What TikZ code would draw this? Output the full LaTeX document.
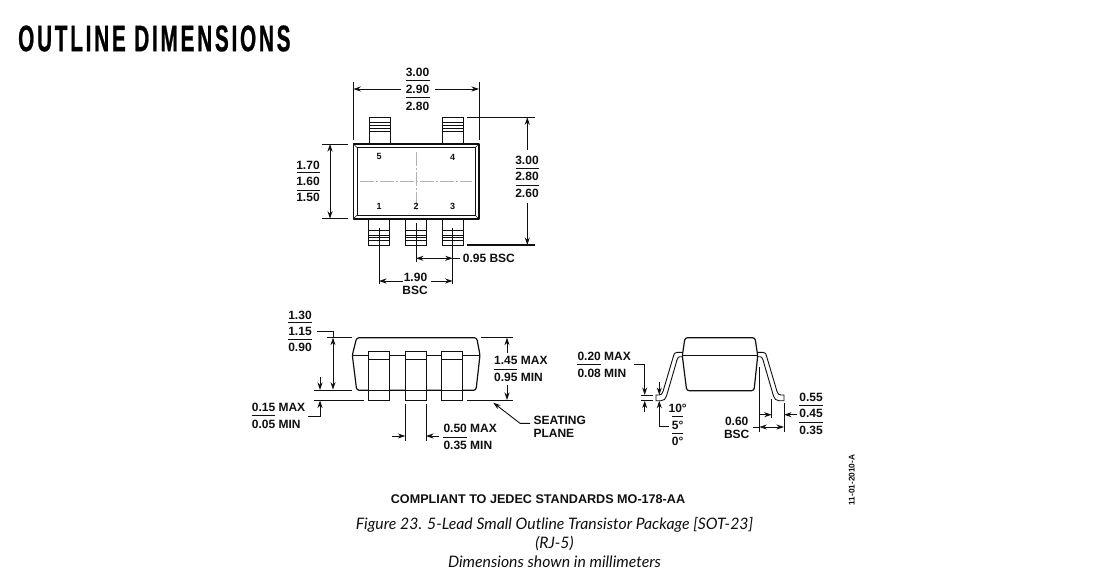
\documentclass[tikz,border=0pt]{standalone}
\usepackage{fontspec}
\setmainfont{Liberation Sans}
\newfontfamily\titlefont[FakeStretch=0.56,LetterSpace=7.5,FakeBold=0.6]{Liberation Sans}
\newfontfamily\capfont{Lato}
\usetikzlibrary{arrows.meta}
\definecolor{ink}{HTML}{111011}
\tikzset{
  outline/.style={draw=ink, line width=1.2pt, line join=round},
  thin part/.style={draw=ink, line width=0.9pt},
  dimline/.style={draw=ink, line width=0.9pt},
  dimarrow/.style={dimline, -{Stealth[length=7.5pt,width=5pt]}},
  dimboth/.style={dimline, {Stealth[length=7.5pt,width=5pt]}-{Stealth[length=7.5pt,width=5pt]}},
  centerline/.style={draw=black!30, line width=0.7pt, dash pattern=on 14pt off 2pt on 2pt off 2pt},
  dimtext/.style={font=\fontsize{12}{12}\selectfont\bfseries, text=ink, inner sep=0pt},
  pintext/.style={font=\fontsize{9}{9}\selectfont\bfseries, text=ink, inner sep=0pt},
  caption/.style={font=\capfont\itshape\fontsize{15.8}{16}\selectfont, text=ink, inner sep=0pt}
}
\begin{document}
\begin{tikzpicture}[x=1pt, y=-1pt]
  \useasboundingbox (0,0) rectangle (1117,586);
  \fill[white] (0,0) rectangle (1117,586);
  \node[anchor=west, inner sep=0pt, text=black, font=\titlefont\bfseries\fontsize{37}{37}\selectfont] (title) at (18,38.5) {OUTLINE DIMENSIONS};

  % top view: leads
  \foreach \x in {369.3, 442.3} {
    \draw[thin part] (\x,144) -- (\x,117.5) -- (\x+21.3,117.5) -- (\x+21.3,144);
    \foreach \y in {122, 125, 128, 131.5} {
      \draw[thin part, line width=0.7pt] (\x,\y) -- (\x+21.3,\y);
    }
  }
  \foreach \x in {368.3, 405.3, 442} {
    \draw[thin part] (\x,219) -- (\x,245) -- (\x+21.3,245) -- (\x+21.3,219);
    \foreach \y in {230, 235, 237.5, 240.5} {
      \draw[thin part, line width=0.7pt] (\x,\y) -- (\x+21.3,\y);
    }
  }
  % top view: body
  \draw[outline, line width=1.5pt] (353.3,144) rectangle (479,219);
  \draw[thin part] (357.3,147.7) rectangle (475,215);
  \draw[thin part, line width=0.5pt] (353.3,144) -- (357.3,147.7) (479,144) -- (475,147.7)
    (353.3,219) -- (357.3,215) (479,219) -- (475,215);
  \draw[centerline] (360,181.3) -- (472,181.3);
  \draw[centerline] (416,152) -- (416,211);
  \node[pintext] (pinfive) at (379,156.7) {5};
  \node[pintext] (pinfour) at (452.7,157.3) {4};
  \node[pintext] (pinone) at (379,206.7) {1};
  \node[pintext] (pintwo) at (416,206.7) {2};
  \node[pintext] (pinthree) at (452.7,206.7) {3};

  % top view: width
  \draw[dimline] (353.3,82) -- (353.3,140);
  \draw[dimline] (479,82) -- (479,140);
  \node[dimtext] (widthhi) at (417.5,72) {3.00};
  \node[dimtext] (widthmid) at (417.5,89) {2.90};
  \node[dimtext] (widthlo) at (417.5,106) {2.80};
  \draw[dimline] (405.7,80.3) -- (430,80.3);
  \draw[dimline] (405.7,97.3) -- (430,97.3);
  \draw[dimarrow] (401,89) -- (353.3,89);
  \draw[dimarrow] (435,89) -- (479,89);

  % top view: body width
  \draw[dimline] (321.7,144) -- (348,144);
  \draw[dimline] (321.7,218.7) -- (348,218.7);
  \draw[dimboth] (330,144) -- (330,218.7);
  \node[dimtext] (bodyhi) at (308,165) {1.70};
  \node[dimtext] (bodymid) at (308,181.7) {1.60};
  \node[dimtext] (bodylo) at (308,197.7) {1.50};
  \draw[dimline] (296.7,172.7) -- (320,172.7);
  \draw[dimline] (296.7,190) -- (320,190);

  % top view: overall
  \draw[dimline] (467,117.3) -- (535,117.3);
  \draw[dimline, line width=1.1pt] (467,245) -- (535,245);
  \draw[dimarrow] (527.3,150) -- (527.3,117.3);
  \draw[dimarrow] (527.3,203) -- (527.3,245);
  \node[dimtext] (allhi) at (527,160.7) {3.00};
  \node[dimtext] (allmid) at (527,176.7) {2.80};
  \node[dimtext] (alllo) at (527,193.3) {2.60};
  \draw[dimline] (515.7,168.3) -- (539,168.3);
  \draw[dimline] (515.7,185) -- (539,185);

  % top view: pitch
  \draw[dimline] (379,228) -- (379,284);
  \draw[dimline] (416,223) -- (416,261.7);
  \draw[dimline] (452.7,228) -- (452.7,284);
  \node[dimtext, anchor=west] (pitchone) at (462.7,258.3) {0.95 BSC};
  \draw[dimarrow] (436,258.3) -- (416,258.3);
  \draw[dimarrow] (436,258.3) -- (452.7,258.3);
  \draw[dimline] (452.7,258.3) -- (460,258.3);
  \node[dimtext] (pitchtwo) at (415.5,277.7) {1.90};
  \node[dimtext] (pitchbsc) at (415,290.7) {BSC};
  \draw[dimarrow] (402.7,281) -- (379,281);
  \draw[dimarrow] (430.7,281) -- (452.7,281);

  % front view
  \draw[outline, fill=white, rounded corners=2.5pt] (356.7,337.7) -- (476.7,337.7) -- (480,355) -- (476,390.3) -- (356.7,390.3) -- (352.3,355) -- cycle;
  \draw[thin part] (352.3,355) -- (480,355);
  \foreach \x in {368.7, 405.3, 441.7} {
    \draw[thin part, fill=white] (\x,351.7) rectangle (\x+20.8,400);
    \draw[thin part] (\x,359.3) -- (\x+20.8,359.3);
    \draw[thin part] (\x,390.3) -- (\x+20.8,390.3);
  }
  \draw[dimline] (327.3,337.7) -- (351.7,337.7);
  \draw[dimline] (480.7,337.7) -- (512.7,337.7);
  \draw[dimline] (314,390) -- (351.7,390);
  \draw[dimline] (314,400) -- (364,400);
  \draw[dimline] (467.3,400) -- (512.7,400);
  \node[dimtext] (hthi) at (300,315) {1.30};
  \node[dimtext] (htmid) at (300,331) {1.15};
  \node[dimtext] (htlo) at (300,347.7) {0.90};
  \draw[dimline] (288.3,322.7) -- (312.3,322.7);
  \draw[dimline] (288.3,339.3) -- (312.3,339.3);
  \draw[dimboth] (333,337.7) -- (333,389.7);
  \draw[dimline] (htmid.east)+(5,0) -- (333,331) -- (333,337.7);
  \draw[dimarrow] (320,376.7) -- (320,390);
  \node[dimtext, anchor=west] (standhi) at (251.7,407.7) {0.15 MAX};
  \node[dimtext, anchor=west] (standlo) at (251.7,424.3) {0.05 MIN};
  \draw[dimline] (251.7,415.7) -- (275,415.7);
  \draw[dimarrow] (308.3,416) -- (320,416) -- (320,400.5);
  \node[dimtext, anchor=west] (sidehi) at (494,360.7) {1.45 MAX};
  \node[dimtext, anchor=west] (sidelo) at (494,377.3) {0.95 MIN};
  \draw[dimline] (494,369) -- (517.3,369);
  \draw[dimarrow] (507,353.3) -- (507,337.7);
  \draw[dimarrow] (507,385) -- (507,400);
  \draw[dimline] (405.3,404) -- (405.3,440.7);
  \draw[dimline] (426,404) -- (426,440.7);
  \draw[dimarrow] (392,436) -- (405.3,436);
  \draw[dimarrow] (439,436) -- (426,436);
  \node[dimtext, anchor=west] (leadhi) at (443.3,428.7) {0.50 MAX};
  \node[dimtext, anchor=west] (leadlo) at (443.3,445.7) {0.35 MIN};
  \draw[dimline] (443.3,437) -- (466.7,437);
  \node[dimtext, anchor=west] (seatone) at (533.3,420.3) {SEATING};
  \node[dimtext, anchor=west] (seattwo) at (533.3,433.3) {PLANE};
  \draw[dimarrow] (530,423.3) -- (520,423.3) -- (493.3,402.7);

  % side view
  \foreach \m/\s in {0/1, 1440/-1} {
    \draw[thin part, fill=white] (\m+\s*682.3,352.3) -- (\m+\s*677,352.3) .. controls (\m+\s*674.5,352.3) and (\m+\s*674,354) .. (\m+\s*673.5,356)
      -- (\m+\s*663,391.5) .. controls (\m+\s*662.3,394) and (\m+\s*661,395) .. (\m+\s*659,395)
      -- (\m+\s*656,395) -- (\m+\s*656,400.7) -- (\m+\s*661,400.7) .. controls (\m+\s*664,400.7) and (\m+\s*665.5,399) .. (\m+\s*666.5,396)
      -- (\m+\s*677,360) .. controls (\m+\s*677.8,357.5) and (\m+\s*678.5,356.7) .. (\m+\s*680,356.7) -- (\m+\s*682.3,356.7);
  }
  \draw[outline, fill=white, rounded corners=2.5pt] (685,337.7) -- (755,337.7) -- (757.7,355.7) -- (754,390.7) -- (686.7,390.7) -- (682.3,355.7) -- cycle;
  \draw[thin part] (682.3,355.7) -- (757.7,355.7);
  \node[dimtext, anchor=west] (thickhi) at (577.3,356.7) {0.20 MAX};
  \node[dimtext, anchor=west] (thicklo) at (577.3,373.3) {0.08 MIN};
  \draw[dimline] (577.3,364.7) -- (601,364.7);
  \draw[dimline] (641,395) -- (653.3,395);
  \draw[dimline] (641,400.7) -- (653.3,400.7);
  \draw[dimarrow] (634,364.3) -- (644.7,364.3) -- (644.7,395);
  \draw[dimarrow] (644.7,412.3) -- (644.7,400.7);
  \draw[dimarrow] (659.3,382.3) -- (659.3,395);
  \draw[dimarrow] (669.3,426) -- (659.3,426) -- (659.3,400.7);
  \node[dimtext] (anglehi) at (677.7,408.3) {10°};
  \node[dimtext] (anglemid) at (677.7,425) {5°};
  \node[dimtext] (anglelo) at (677.7,441.7) {0°};
  \draw[dimline] (671.7,416.7) -- (683.3,416.7);
  \draw[dimline] (671.7,433.3) -- (683.3,433.3);
  \draw[dimline] (759.3,366.7) -- (759.3,431.7);
  \draw[dimline] (771.7,399.3) -- (771.7,418.3);
  \draw[dimline] (784,403) -- (784,431.7);
  \draw[dimarrow] (759.3,414.7) -- (771.7,414.7);
  \draw[dimarrow] (797.3,414.7) -- (784,414.7);
  \node[dimtext] (footbsc) at (736.7,421.7) {0.60};
  \node[dimtext] (footbsctwo) at (736.7,434.3) {BSC};
  \draw[dimline] (752.7,427) -- (759.3,427);
  \draw[dimboth] (759.3,427) -- (784,427);
  \node[dimtext] (foothi) at (811,397.7) {0.55};
  \node[dimtext] (footmid) at (811,413.7) {0.45};
  \node[dimtext] (footlo) at (811,430.7) {0.35};
  \draw[dimline] (799.3,405.7) -- (823.3,405.7);
  \draw[dimline] (799.3,422.3) -- (823.3,422.3);

  % notes
  \node[dimtext, font=\fontsize{8.3}{9}\selectfont\bfseries, rotate=90] (docno) at (851.7,480) {11-01-2010-A};
  \node[dimtext, font=\fontsize{12.6}{13}\selectfont\bfseries] (jedec) at (538,499.5) {COMPLIANT TO JEDEC STANDARDS MO-178-AA};
  \node[caption, anchor=base] (capone) at (554.5,529) {Figure 23. 5-Lead Small Outline Transistor Package [SOT-23]};
  \node[caption, anchor=base] (captwo) at (554.5,548) {(RJ-5)};
  \node[caption, anchor=base] (capthree) at (554.5,567) {Dimensions shown in millimeters};
\end{tikzpicture}
\end{document}
